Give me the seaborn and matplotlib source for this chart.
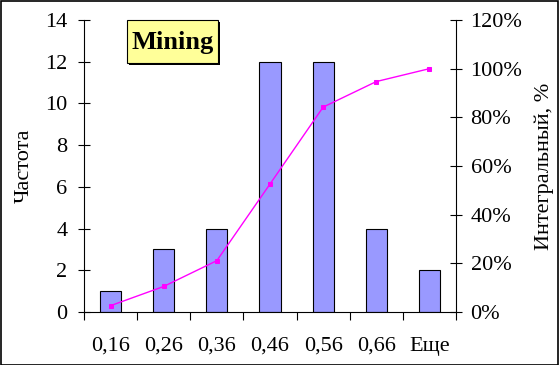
import matplotlib
matplotlib.use("Agg")
import matplotlib.pyplot as plt
import seaborn as sns
import pandas as pd
from matplotlib.patches import Rectangle
from matplotlib.ticker import FixedLocator, PercentFormatter

categories = ["0,16", "0,26", "0,36", "0,46", "0,56", "0,66", "Еще"]
frequency = [1, 3, 4, 12, 12, 4, 2]
cumulative_pct = [2.6, 10.5, 21.1, 52.6, 84.2, 94.7, 100.0]

sns.set_theme(style="white")
plt.rcParams['font.family'] = ['Liberation Serif', 'DejaVu Serif']

FS = 16

df = pd.DataFrame({"cat": categories, "freq": frequency, "cum": cumulative_pct})

fig = plt.figure(figsize=(5.59, 3.65), dpi=100)
ax = fig.add_axes([84/559, 1-312/365, (456-84)/559, (312-20)/365])

sns.barplot(data=df, x="cat", y="freq", ax=ax, color="#9999FF", saturation=1,
            edgecolor="black", linewidth=0.8, width=0.4)
ax.set_xlim(-0.5, 6.5)
ax.set_ylim(0, 14)
ax.set_yticks(range(0, 15, 2))
ax.set_xlabel("")
ax.set_ylabel("Частота", fontsize=FS, color="black")
ax.yaxis.set_label_coords(-0.135, 0.5)

for s in ["top", "right"]:
    ax.spines[s].set_visible(False)
for s in ["left", "bottom"]:
    ax.spines[s].set_color("black")
    ax.spines[s].set_linewidth(0.8)

ax.tick_params(axis="y", which="major", direction="inout", length=9, width=0.8,
               colors="black", labelsize=FS, left=True, pad=7.5)
ax.xaxis.set_major_locator(FixedLocator(range(7)))
ax.set_xticklabels(categories)
ax.tick_params(axis="x", which="major", length=0, labelsize=FS, colors="black", pad=18)
ax.xaxis.set_minor_locator(FixedLocator([i + 0.5 for i in range(-1, 7)]))
ax.tick_params(axis="x", which="minor", direction="out", length=6, width=0.8,
               color="black", bottom=True)

ax2 = ax.twinx()
sns.lineplot(x=list(range(7)), y=df["cum"].tolist(), ax=ax2, color="#FF00FF",
             linewidth=1, marker="s", markersize=3.5, markeredgecolor="#FF00FF")
ax2.set_ylim(0, 120)
ax2.set_yticks(range(0, 121, 20))
ax2.yaxis.set_major_formatter(PercentFormatter(decimals=0))
ax2.set_ylabel("Интегральный, %", fontsize=FS, color="black")
ax2.yaxis.set_label_coords(1.212, 0.5)
for s in ["top", "left", "bottom"]:
    ax2.spines[s].set_visible(False)
ax2.spines["right"].set_color("black")
ax2.spines["right"].set_linewidth(0.8)
ax2.tick_params(axis="y", direction="inout", length=9, width=0.8, colors="black",
                labelsize=FS, right=True, pad=6)
ax2.grid(False)
ax.grid(False)

# title box with shadow
fig.patches.append(Rectangle((129/559, 1-65/365), 91/559, 43/365, transform=fig.transFigure,
                             facecolor="black", edgecolor="none", zorder=5))
fig.patches.append(Rectangle((127/559, 1-63/365), 91/559, 43/365, transform=fig.transFigure,
                             facecolor="#FFFF99", edgecolor="black", linewidth=0.8, zorder=6))
fig.text(172.5/559, 1-42/365, "Mining", fontsize=19, fontweight="bold",
         ha="center", va="center", color="black", zorder=7)

# outer border
fig.patches.append(Rectangle((0.5/559, 0.5/365), 1-1.5/559, 1-1.5/365, transform=fig.transFigure,
                             facecolor="none", edgecolor="black", linewidth=1.2, zorder=10))

fig.savefig("out.png", dpi=100)
